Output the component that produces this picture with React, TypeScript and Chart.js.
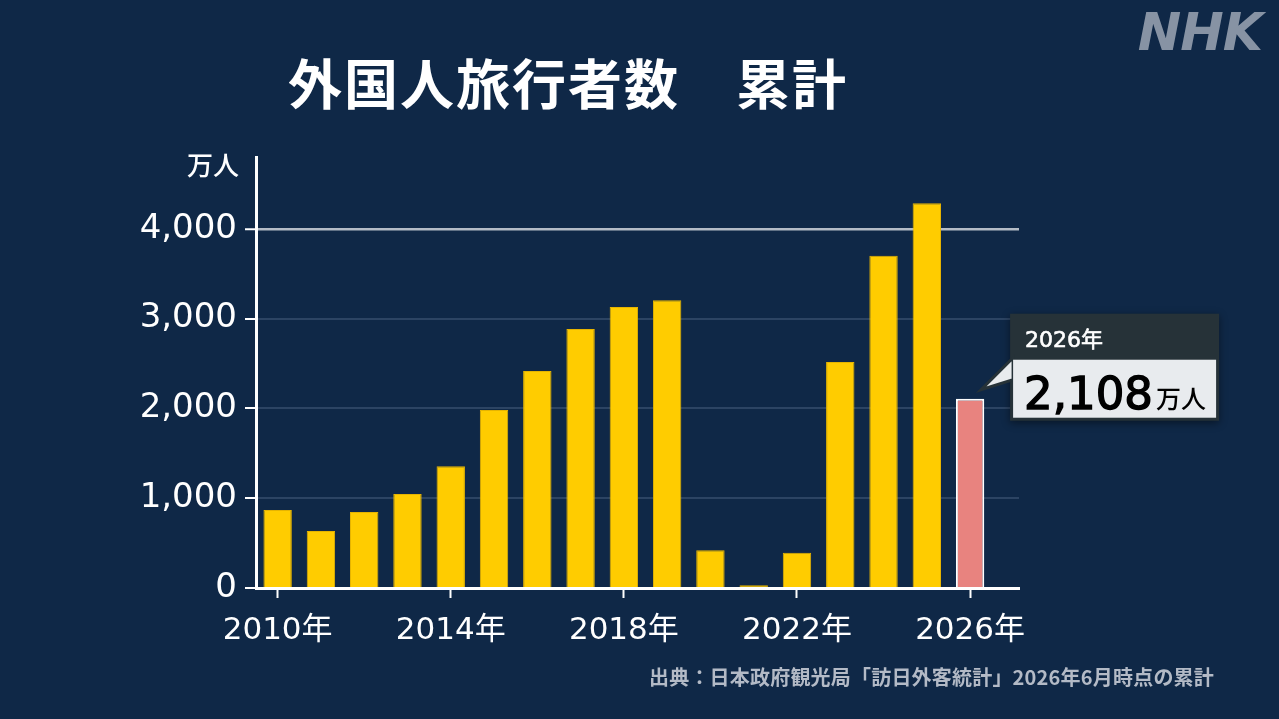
import { useEffect, useRef } from "react";
import { Chart, registerables, type Plugin } from "chart.js";

Chart.register(...registerables);

// 訪日外国人旅行者数（万人）
const years = [2010, 2011, 2012, 2013, 2014, 2015, 2016, 2017, 2018, 2019, 2020, 2021, 2022, 2023, 2024, 2025, 2026];
const visitors = [870, 635, 847, 1048, 1356, 1982, 2416, 2884, 3130, 3206, 420, 30, 393, 2516, 3700, 4286, 2108];
const yTicks = [0, 1000, 2000, 3000, 4000];
const xTicks = [2010, 2014, 2018, 2022, 2026];
const highlightYear = 2026;

const BG = "#0f2847";
const NUM_FONT = "'DejaVu Sans', 'Noto Sans CJK JP', sans-serif";
const JP_FONT = "'Noto Sans CJK JP', sans-serif";

// 吹き出し（最新年の値）
const calloutPlugin: Plugin<"bar"> = {
  id: "callout",
  afterDatasetsDraw(chart) {
    const idx = years.indexOf(highlightYear);
    const bar = chart.getDatasetMeta(0).data[idx] as any;
    if (!bar) return;
    const ctx = chart.ctx;
    const tipX = bar.x + 11;
    const tipY = bar.y - 9;
    const left = tipX + 29;
    const top = tipY - 76;
    const w = 209;
    const h = 107;
    ctx.save();
    ctx.shadowColor = "rgba(0,0,0,0.45)";
    ctx.shadowBlur = 8;
    ctx.shadowOffsetY = 2;
    ctx.fillStyle = "#263238";
    ctx.fillRect(left, top, w, h);
    ctx.shadowColor = "transparent";

    ctx.beginPath();
    ctx.moveTo(left + 3, top + 44);
    ctx.lineTo(tipX, tipY);
    ctx.lineTo(left + 3, top + 66);
    ctx.closePath();
    ctx.fillStyle = "#e8ebee";
    ctx.fill();
    ctx.strokeStyle = "#263238";
    ctx.lineWidth = 3;
    ctx.stroke();

    ctx.fillStyle = "#e8ebee";
    ctx.fillRect(left + 3, top + 46, w - 6, h - 49);

    ctx.textBaseline = "alphabetic";
    ctx.textAlign = "left";
    ctx.fillStyle = "#ffffff";
    ctx.strokeStyle = "#ffffff";
    ctx.lineWidth = 0.6;
    ctx.font = `22px ${NUM_FONT}`;
    ctx.fillText(`${highlightYear}年`, left + 15, top + 33);
    ctx.strokeText(`${highlightYear}年`, left + 15, top + 33);

    ctx.fillStyle = "#000000";
    ctx.strokeStyle = "#000000";
    ctx.lineWidth = 1.4;
    ctx.font = `45px ${NUM_FONT}`;
    const valText = visitors[idx].toLocaleString("en-US");
    ctx.fillText(valText, left + 14, top + 95);
    ctx.strokeText(valText, left + 14, top + 95);
    const vw = ctx.measureText(valText).width;
    ctx.font = `500 25px ${JP_FONT}`;
    ctx.fillText("万人", left + 17 + vw, top + 94);
    ctx.restore();
  },
};

export default function App() {
  const ref = useRef<HTMLCanvasElement>(null);

  useEffect(() => {
    if (!ref.current) return;
    const chart = new Chart(ref.current, {
      type: "bar",
      data: {
        datasets: [
          {
            data: years.map((y, i) => ({ x: y, y: visitors[i] })),
            backgroundColor: years.map((y) => (y === highlightYear ? "#e8837f" : "#ffcc00")),
            borderColor: years.map((y) => (y === highlightYear ? "#ffffff" : "#e6b400")),
            borderWidth: years.map((y) => (y === highlightYear ? 2 : 1)),
            categoryPercentage: 1,
            barPercentage: 0.656,
          },
        ],
      },
      options: {
        animation: false,
        responsive: true,
        maintainAspectRatio: false,
        layout: { padding: { left: 0, right: 260, top: 157, bottom: 0 } },
        plugins: { legend: { display: false }, tooltip: { enabled: false } },
        scales: {
          x: {
            type: "linear",
            min: 2009.5,
            max: 2027.13,
            offset: false,
            afterBuildTicks: (scale) => {
              scale.ticks = xTicks.map((v) => ({ value: v }));
            },
            afterFit: (scale) => {
              scale.height = 131;
            },
            grid: {
              offset: false,
              drawOnChartArea: false,
              drawTicks: true,
              tickLength: 10,
              tickColor: "#ffffff",
              tickWidth: 2,
            },
            border: { display: true, color: "#ffffff", width: 3 },
            ticks: {
              color: "#ffffff",
              font: { family: NUM_FONT, size: 31 },
              padding: 14,
              maxRotation: 0,
              callback: (v) => `${v}年`,
            },
          },
          y: {
            type: "linear",
            min: 0,
            max: 4800,
            afterBuildTicks: (scale) => {
              scale.ticks = yTicks.map((v) => ({ value: v }));
            },
            afterFit: (scale) => {
              scale.width = 256;
            },
            grid: {
              color: (c) => (c.tick && c.tick.value === 4000 ? "#b4bcc6" : "#2c4463"),
              lineWidth: (c) => (c.tick && c.tick.value === 4000 ? 2.5 : 2),
              tickColor: "#ffffff",
              tickLength: 11,
              tickWidth: 2,
            },
            border: { display: true, color: "#ffffff", width: 3 },
            ticks: {
              color: "#ffffff",
              font: { family: NUM_FONT, size: 34 },
              padding: 8,
              callback: (v) => Number(v).toLocaleString("en-US"),
            },
          },
        },
      },
      plugins: [calloutPlugin],
    });
    return () => chart.destroy();
  }, []);

  return (
    <div
      style={{
        position: "fixed",
        left: 0,
        top: 0,
        width: 1279,
        height: 719,
        background: BG,
        overflow: "hidden",
      }}
    >
      <canvas ref={ref} />
      <div
        style={{
          position: "absolute",
          left: 288,
          top: 44,
          color: "#ffffff",
          font: `bold 54px ${JP_FONT}`,
          letterSpacing: 2,
          whiteSpace: "pre",
          lineHeight: "76px",
        }}
      >
        外国人旅行者数　累計
      </div>
      <div
        style={{
          position: "absolute",
          right: 1279 - 239,
          top: 146,
          color: "#ffffff",
          font: `500 26px ${JP_FONT}`,
          lineHeight: "36px",
        }}
      >
        万人
      </div>
      <div
        style={{
          position: "absolute",
          right: 17,
          top: 2,
          color: "#8793a4",
          font: `italic bold 52px ${NUM_FONT}`,
          letterSpacing: -1,
          lineHeight: "60px",
        }}
      >
        NHK
      </div>
      <div
        style={{
          position: "absolute",
          right: 1279 - 1214,
          top: 662,
          color: "#b3bac6",
          font: `bold 20px ${JP_FONT}`,
          letterSpacing: 0.2,
          lineHeight: "30px",
          whiteSpace: "pre",
        }}
      >
        出典：日本政府観光局「訪日外客統計」2026年6月時点の累計
      </div>
    </div>
  );
}
